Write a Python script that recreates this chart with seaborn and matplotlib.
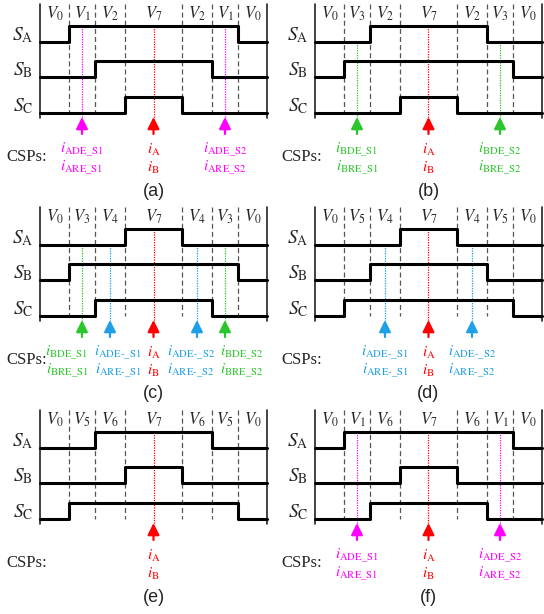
import numpy as np
import pandas as pd
import seaborn as sns
import matplotlib
matplotlib.use('Agg')
import matplotlib.pyplot as plt

# switching sequences of the six sectors, with their current sampling points

sns.set_style('white')
plt.rcParams['font.family'] = ['Liberation Serif', 'DejaVu Serif']
plt.rcParams['mathtext.fontset'] = 'stix'

# switch states (S_A, S_B, S_C) of each basic vector
switch_states = {0: (0, 0, 0), 1: (1, 0, 0), 2: (1, 1, 0), 3: (0, 1, 0),
                 4: (0, 1, 1), 5: (0, 0, 1), 6: (1, 0, 1), 7: (1, 1, 1)}

# dwell time of every segment (same for all panels)
durations = [29, 26, 30, 57, 30, 26, 29]

panel_names = ['(a)', '(b)', '(c)', '(d)', '(e)', '(f)']
vectors_a = [0, 1, 2, 7, 2, 1, 0]
vectors_b = [0, 3, 2, 7, 2, 3, 0]
vectors_c = [0, 3, 4, 7, 4, 3, 0]
vectors_d = [0, 5, 4, 7, 4, 5, 0]
vectors_e = [0, 5, 6, 7, 6, 5, 0]
vectors_f = [0, 1, 6, 7, 6, 1, 0]

# sampling points: (segment, colour, upper label, lower label)
csp_a = [(1, 'mag', r'ADE\_S1', r'ARE\_S1'), (3, 'red', 'A', 'B'), (5, 'mag', r'ADE\_S2', r'ARE\_S2')]
csp_b = [(1, 'grn', r'BDE\_S1', r'BRE\_S1'), (3, 'red', 'A', 'B'), (5, 'grn', r'BDE\_S2', r'BRE\_S2')]
csp_c = [(1, 'grn', r'BDE\_S1', r'BRE\_S1'), (2, 'blu', r'ADE\text{-}\_S1', r'ARE\text{-}\_S1'),
         (3, 'red', 'A', 'B'),
         (4, 'blu', r'ADE\text{-}\_S2', r'ARE\text{-}\_S2'), (5, 'grn', r'BDE\_S2', r'BRE\_S2')]
csp_d = [(2, 'blu', r'ADE\text{-}\_S1', r'ARE\text{-}\_S1'), (3, 'red', 'A', 'B'),
         (4, 'blu', r'ADE\text{-}\_S2', r'ARE\text{-}\_S2')]
csp_e = [(3, 'red', 'A', 'B')]
csp_f = [(1, 'mag', r'ADE\_S1', r'ARE\_S1'), (3, 'red', 'A', 'B'), (5, 'mag', r'ADE\_S2', r'ARE\_S2')]

colors = {'mag': '#FF00FF', 'red': '#FF0000', 'grn': '#2BC62B', 'blu': '#1E9FE6'}

panels = [(vectors_a, csp_a, [0, 0, 0]),
          (vectors_b, csp_b, [0, 0, 0]),
          (vectors_c, csp_c, [-15, 8, 0, -6, 17]),
          (vectors_d, csp_d, [0, 0, 0]),
          (vectors_e, csp_e, [0]),
          (vectors_f, csp_f, [0, 0, 0])]

W, H = 272, 203
X0 = 40
lows = [42, 77, 113]
amp = 16

fig = plt.figure(figsize=(5.44, 6.14), dpi=100)

for p, (vectors, csps, shifts) in enumerate(panels):
    px = 0 if p % 2 == 0 else 275
    py = 203 * (p // 2)
    ax = fig.add_axes([px / 544, 1 - (py + H) / 614, W / 544, H / 614])

    edges = X0 + np.concatenate([[0], np.cumsum(durations)])
    mids = (edges[:-1] + edges[1:]) / 2

    # frame and segment borders
    for e in [edges[0], edges[-1]]:
        ax.plot([e, e], [4, 118], color='#222222', lw=1.2)
    for e in edges[1:-1]:
        ax.plot([e, e], [4, 113], color='#555555', lw=0.9, ls=(0, (4, 2.5)))
    for m, v in zip(mids, vectors):
        ax.text(m, 14, rf'$V_{{{v}}}$', ha='center', va='center', fontsize=12)

    # dotted guide lines and arrows
    for (seg, ck, t1, t2), sh in zip(csps, shifts):
        c = colors[ck]
        ystart = lows[0] - amp * switch_states[vectors[seg]][0]
        ax.plot([mids[seg], mids[seg]], [ystart, 118], color=c, lw=0.9, ls=(0, (1, 1)))
        ax.annotate('', xy=(mids[seg], 117), xytext=(mids[seg], 134),
                    arrowprops=dict(arrowstyle='-|>,head_length=0.7,head_width=0.35',
                                    color=c, lw=1.6, shrinkA=0, shrinkB=0, mutation_scale=10))
        ax.text(mids[seg] + sh, 150, rf'$i_\mathrm{{{t1}}}$', color=c, ha='center', va='center', fontsize=11)
        ax.text(mids[seg] + sh, 168, rf'$i_\mathrm{{{t2}}}$', color=c, ha='center', va='center', fontsize=11)

    # switching waveforms
    for k, lab in enumerate(['A', 'B', 'C']):
        level = [switch_states[v][k] for v in vectors]
        level.append(level[-1])
        df = pd.DataFrame({'t': edges, 'y': lows[k] - amp * np.array(level)})
        sns.lineplot(data=df, x='t', y='y', ax=ax, color='black', lw=2.2,
                     drawstyle='steps-post', estimator=None, sort=False)
        ax.text(33, lows[k] - 7, rf'$S_\mathrm{{{lab}}}$', ha='right', va='center', fontsize=14)
    ax.set_xlim(0, W)
    ax.set_ylim(H, 0)
    ax.axis('off')

    ax.text(6, 157, 'CSPs:', ha='left', va='center', fontsize=12)
    ax.text((edges[0] + edges[-1]) / 2, 191, panel_names[p], family='Liberation Sans',
            ha='center', va='center', fontsize=13)

fig.savefig('out.png', dpi=100)
